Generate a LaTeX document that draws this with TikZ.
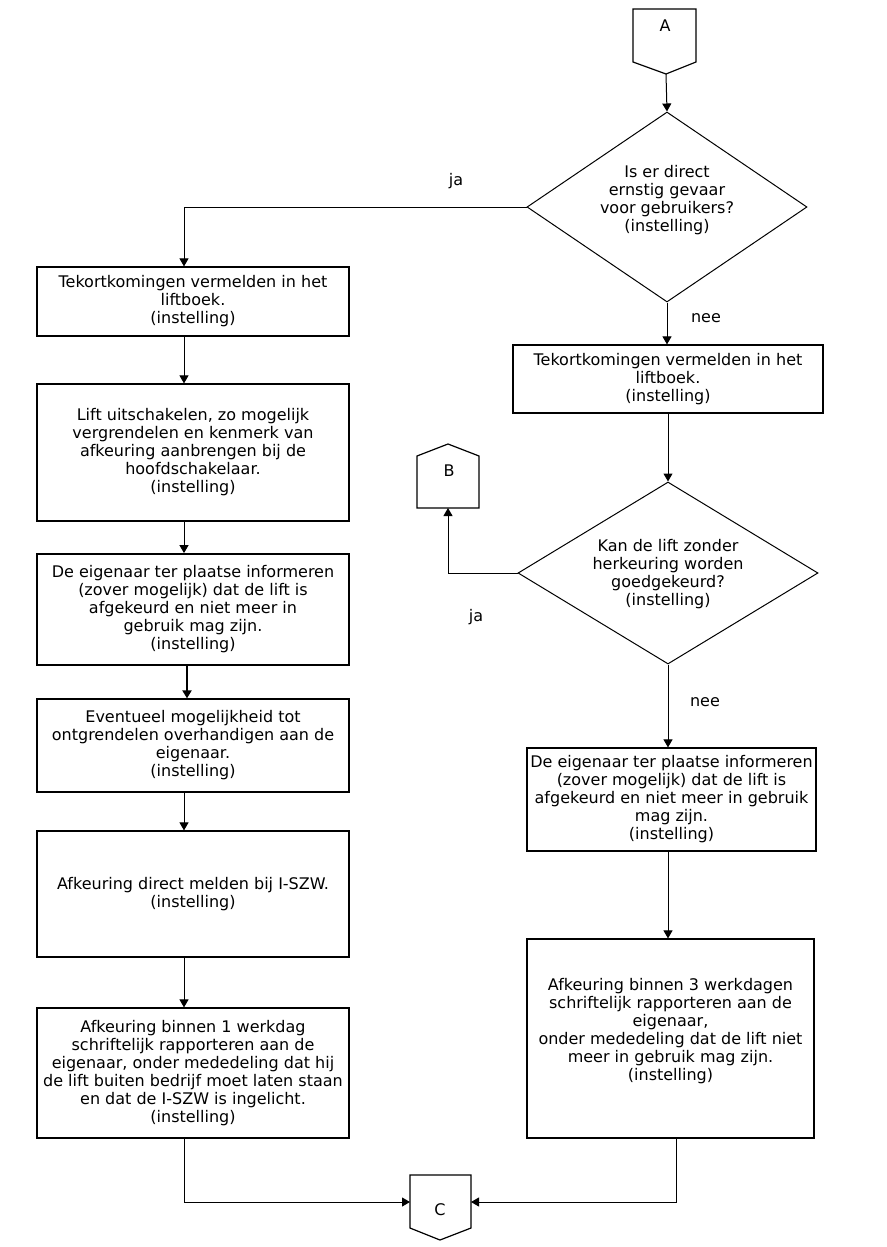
\documentclass[tikz,border=0pt]{standalone}
\usepackage{fontspec}
\setmainfont{DejaVu Sans}
\usetikzlibrary{arrows.meta,shapes.geometric}
\begin{document}
\begin{tikzpicture}[x=1pt,y=-1pt,
  every node/.style={font=\fontsize{16}{18}\selectfont, text=black},
  box/.style={draw=black, line width=1.2pt, rectangle, inner sep=0pt, align=center},
  dia/.style={draw=black, line width=1pt, diamond, inner sep=0pt},
  conn/.style={draw=black, line width=1.2pt, line join=miter},
  lab/.style={inner sep=0pt},
  arr/.style={line width=1pt, -{Triangle[length=8pt,width=9pt]}},
  line/.style={line width=1pt}]
\fill[white] (0,0) rectangle (886,1247);
\useasboundingbox (0,0) rectangle (886,1247);

% connectors (off-page)
\draw[conn] (633,9) -- (696,9) -- (696,62) -- (666,74) -- (633,62) -- cycle;
\node[lab] (A) at (665,26) {A};
\coordinate (Atip) at (666,74);

\draw[conn] (417,508) -- (479,508) -- (479,456) -- (448,444) -- (417,456) -- cycle;
\node[lab] (B) at (449,471) {B};
\coordinate (Bbot) at (448,508);

\draw[conn] (410,1175) -- (471,1175) -- (471,1228) -- (440,1240) -- (410,1228) -- cycle;
\node[lab] (C) at (440,1210) {C};
\coordinate (Cw) at (410,1202);
\coordinate (Ce) at (471,1202);

% decisions
\node[dia, minimum width=280pt, minimum height=190pt] (D1) at (667,207) {};
\node[lab, align=center] (D1t) at (667,200) {Is er direct\\ernstig gevaar\\voor gebruikers?\\(instelling)};
\node[dia, minimum width=300pt, minimum height=182pt] (D2) at (668,573) {};
\node[lab, align=center] (D2t) at (668,574) {Kan de lift zonder\\herkeuring worden\\goedgekeurd?\\(instelling)};

% left column
\coordinate (lx) at (184,0);
\node[box, minimum width=312pt, minimum height=69pt] (L1) at (193,301.5)
  {Tekortkomingen vermelden in het\\liftboek.\\(instelling)};
\node[box, minimum width=312pt, minimum height=137pt] (L2) at (193,452.5)
  {Lift uitschakelen, zo mogelijk\\vergrendelen en kenmerk van\\afkeuring aanbrengen bij de\\hoofdschakelaar.\\(instelling)};
\node[box, line width=1.8pt, minimum width=312pt, minimum height=111pt] (L3) at (193,609.5)
  {De eigenaar ter plaatse informeren\\(zover mogelijk) dat de lift is\\afgekeurd en niet meer in\\gebruik mag zijn.\\(instelling)};
\node[box, minimum width=312pt, minimum height=93pt] (L4) at (193,745.5)
  {Eventueel mogelijkheid tot\\ontgrendelen overhandigen aan de\\eigenaar.\\(instelling)};
\node[box, minimum width=312pt, minimum height=126pt] (L5) at (193,894)
  {Afkeuring direct melden bij I-SZW.\\(instelling)};
\node[box, minimum width=312pt, minimum height=130pt] (L6) at (193,1073)
  {Afkeuring binnen 1 werkdag\\schriftelijk rapporteren aan de\\eigenaar, onder mededeling dat hij\\de lift buiten bedrijf moet laten staan\\en dat de I-SZW is ingelicht.\\(instelling)};

% right column
\node[box, minimum width=310pt, minimum height=68pt] (R1) at (668,379)
  {Tekortkomingen vermelden in het\\liftboek.\\(instelling)};
\node[box, minimum width=289pt, minimum height=103pt] (R2) at (671.5,799.5)
  {De eigenaar ter plaatse informeren\\(zover mogelijk) dat de lift is\\afgekeurd en niet meer in gebruik\\mag zijn.\\(instelling)};
\node[box, minimum width=287pt, minimum height=199pt] (R3) at (670.5,1038.5) {};
\node[lab, align=center] (R3t) at (670.5,1031)
  {Afkeuring binnen 3 werkdagen\\schriftelijk rapporteren aan de\\eigenaar,\\onder mededeling dat de lift niet\\meer in gebruik mag zijn.\\(instelling)};

% labels
\node[lab] (ja1) at (456,181) {ja};
\node[lab] (nee1) at (706,318) {nee};
\node[lab] (ja2) at (476,617) {ja};
\node[lab] (nee2) at (705,702) {nee};

% arrows
\draw[arr] (Atip) -- (D1.north);
\draw[arr] (D1.west) -| (L1.north -| lx);
\draw[arr] (D1.south) -- (R1.north -| D1.south);
\draw[arr] (L1.south -| lx) -- (L2.north -| lx);
\draw[arr] (L2.south -| lx) -- (L3.north -| lx);
\draw[arr, line width=1.8pt] ([xshift=3pt]L3.south -| lx) -- ([xshift=3pt]L4.north -| lx);
\draw[arr] (L4.south -| lx) -- (L5.north -| lx);
\draw[arr] (L5.south -| lx) -- (L6.north -| lx);
\draw[arr] (R1.south -| D2.north) -- (D2.north);
\draw[arr] (D2.west) -| (Bbot);
\draw[arr] (D2.south) -- (R2.north -| D2.south);
\draw[arr] (R2.south -| D2.south) -- (R3.north -| D2.south);
\draw[arr] (L6.south -| lx) |- (Cw);
\draw[arr] ([xshift=5.5pt]R3.south) |- (Ce);
\end{tikzpicture}
\end{document}
